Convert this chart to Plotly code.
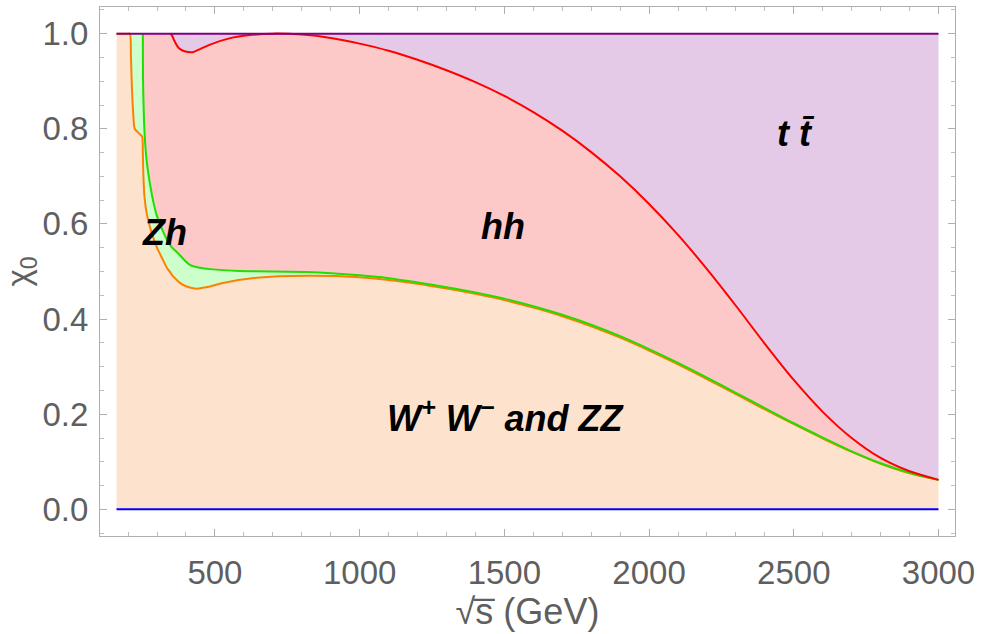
import plotly.graph_objects as go

# --- data (sqrt(s) in GeV, chi_0 boundaries) ---
x_orange = [160, 200, 206, 210, 213, 218, 223, 235, 245, 249, 251, 253, 257, 265, 275, 286, 300, 320, 334, 344,
            350, 360, 379, 400, 437, 480, 528, 645, 818, 1000, 1100, 1200, 1300, 1400, 1500, 1600, 1700, 1800,
            1900, 2000, 2100, 2200, 2300, 2400, 2500, 2600, 2700, 2800, 2900, 3000]
y_orange = [1, 1, 1, 0.95, 0.89, 0.83, 0.80, 0.792, 0.786, 0.783, 0.75, 0.70, 0.655, 0.62, 0.595, 0.573, 0.55,
            0.525, 0.508, 0.50, 0.494, 0.487, 0.476, 0.469, 0.464, 0.468, 0.476, 0.487, 0.491, 0.488, 0.482,
            0.474, 0.464, 0.453, 0.44, 0.424, 0.406, 0.385, 0.361, 0.334, 0.305, 0.274, 0.242, 0.21, 0.179,
            0.149, 0.121, 0.096, 0.076, 0.062]

x_green = [251, 252, 255, 258, 263, 269, 277, 286, 298, 310, 334, 350, 370, 413, 448, 483, 586, 818,
           1000, 1100, 1200, 1300, 1400, 1500, 1600, 1700, 1800, 1900, 2000, 2100, 2200, 2300, 2400, 2500,
           2600, 2700, 2800, 2900, 3000]
y_green = [1, 0.89, 0.82, 0.78, 0.74, 0.71, 0.68, 0.65, 0.62, 0.60, 0.567, 0.552, 0.54, 0.514, 0.508,
           0.505, 0.501, 0.499, 0.492, 0.486, 0.477, 0.467, 0.456, 0.443, 0.427, 0.409, 0.388, 0.364, 0.337,
           0.308, 0.277, 0.245, 0.213, 0.181, 0.151, 0.122, 0.097, 0.077, 0.062]

x_red = [346, 351, 360, 375, 395, 424, 450, 483, 550, 620, 700, 800, 900, 1000, 1100, 1200, 1300, 1400,
         1500, 1600, 1700, 1800, 1900, 2000, 2100, 2200, 2300, 2400, 2500, 2600, 2700, 2800, 2900, 3000]
y_red = [1, 0.997, 0.985, 0.97, 0.963, 0.961, 0.968, 0.977, 0.99, 0.997, 1.0, 0.998, 0.991, 0.979, 0.964,
         0.945, 0.923, 0.898, 0.869, 0.835, 0.796, 0.751, 0.70, 0.642, 0.577, 0.505, 0.428, 0.348, 0.272,
         0.205, 0.15, 0.108, 0.08, 0.062]

x_edges = [160, 3000]
y_bottom = [0, 0]
y_top = [1, 1]

labels = ["<b><i>Zh</i></b>", "<b><i>hh</i></b>", "<b><i>t t\u0304</i></b>",
          "<b><i>W<sup>+</sup> W<sup>\u2212</sup> and ZZ</i></b>"]
label_x = [327, 1496, 2505, 1503]
label_y = [0.581, 0.594, 0.79, 0.197]

x_ticks = [500, 1000, 1500, 2000, 2500, 3000]
y_ticks = [0.0, 0.2, 0.4, 0.6, 0.8, 1.0]

# --- styles ---
fill_ww = "rgb(253,227,205)"
fill_zh = "rgb(204,255,204)"
fill_hh = "rgb(252,200,200)"
fill_tt = "rgb(228,202,230)"
c_orange = "rgb(255,128,0)"
c_green = "rgb(34,221,0)"
c_red = "rgb(255,0,0)"
c_purple = "rgb(128,0,128)"
c_blue = "rgb(0,0,255)"
gray = "rgb(95,95,95)"
SM = 0.8

fig = go.Figure()
# fills
fig.add_trace(go.Scatter(x=x_edges, y=y_bottom, mode="lines", line=dict(width=0), hoverinfo="skip"))
fig.add_trace(go.Scatter(x=x_orange, y=y_orange, mode="lines", line=dict(width=0, shape="spline", smoothing=SM),
                         fill="tonexty", fillcolor=fill_ww, hoverinfo="skip"))
fig.add_trace(go.Scatter(x=x_green, y=y_green, mode="lines", line=dict(width=0, shape="spline", smoothing=SM),
                         fill="tonexty", fillcolor=fill_zh, hoverinfo="skip"))
fig.add_trace(go.Scatter(x=x_red, y=y_red, mode="lines", line=dict(width=0, shape="spline", smoothing=SM),
                         fill="tonexty", fillcolor=fill_hh, hoverinfo="skip"))
fig.add_trace(go.Scatter(x=x_edges, y=y_top, mode="lines", line=dict(width=0), fill="tonexty",
                         fillcolor=fill_tt, hoverinfo="skip"))
# lines
fig.add_trace(go.Scatter(x=x_edges, y=y_bottom, mode="lines", line=dict(color=c_blue, width=2)))
fig.add_trace(go.Scatter(x=x_orange, y=y_orange, mode="lines",
                         line=dict(color=c_orange, width=2, shape="spline", smoothing=SM)))
fig.add_trace(go.Scatter(x=x_green, y=y_green, mode="lines",
                         line=dict(color=c_green, width=2, shape="spline", smoothing=SM)))
fig.add_trace(go.Scatter(x=x_red, y=y_red, mode="lines",
                         line=dict(color=c_red, width=2, shape="spline", smoothing=SM)))
fig.add_trace(go.Scatter(x=x_edges, y=y_top, mode="lines", line=dict(color=c_purple, width=2)))

for t, lx, ly in zip(labels, label_x, label_y):
    fig.add_annotation(x=lx, y=ly, xref="x", yref="y", text=t, showarrow=False,
                       font=dict(family="Liberation Sans", size=36, color="black"))

axis_common = dict(showgrid=False, zeroline=False, showline=True, mirror="ticks", linecolor="rgb(175,175,175)",
                   linewidth=1, ticks="inside", ticklen=7, tickcolor="rgb(175,175,175)",
                   tickfont=dict(family="Liberation Sans", size=33, color=gray))

fig.update_xaxes(range=[103, 3057], tickvals=x_ticks, ticklabelstandoff=7,
                 minor=dict(dtick=100, ticks="inside", ticklen=4, tickcolor="rgb(190,190,190)", tick0=0),
                 title=dict(text="\u221as\u0305 (GeV)", font=dict(family="Liberation Sans", size=36, color=gray),
                            standoff=0),
                 **axis_common)
fig.update_yaxes(range=[-0.056, 1.056], tickvals=y_ticks, tickformat=".1f", ticklabelstandoff=4,
                 minor=dict(dtick=0.05, ticks="inside", ticklen=4, tickcolor="rgb(190,190,190)", tick0=0),
                 title=dict(text="\u03c7<sub>0</sub>", font=dict(family="Liberation Sans", size=33, color=gray),
                            standoff=6),
                 **axis_common)

fig.update_layout(width=981, height=634, showlegend=False, plot_bgcolor="white", paper_bgcolor="white",
                  margin=dict(l=100, r=26, t=7, b=98))

fig.write_html("out.html")
